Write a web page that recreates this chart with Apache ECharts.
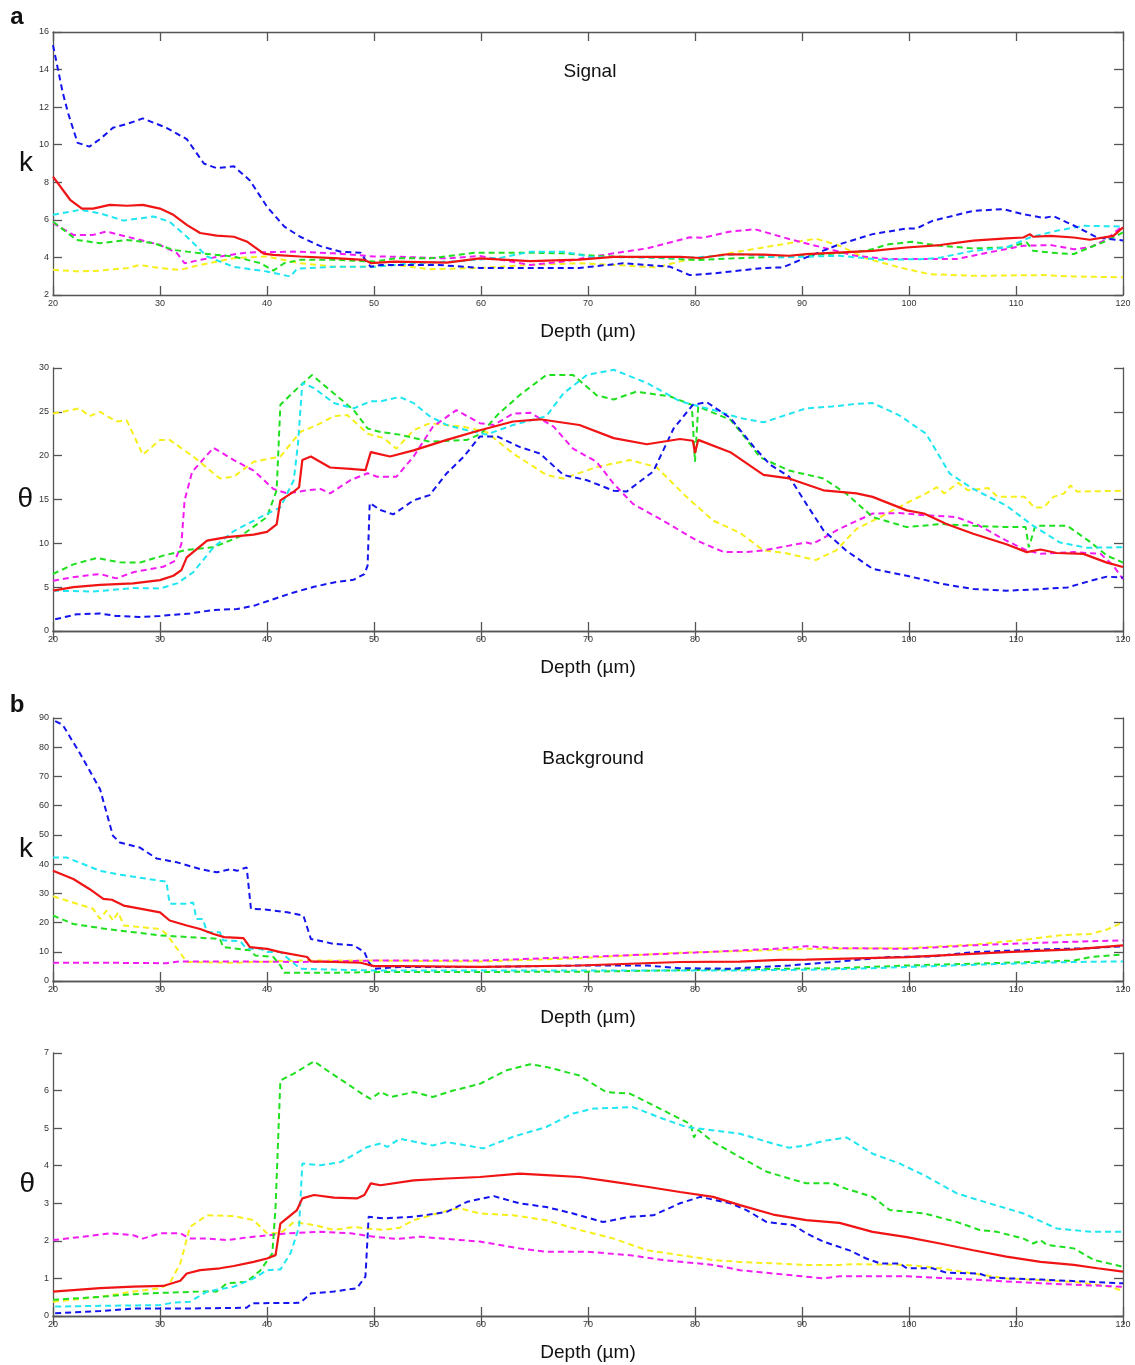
<!DOCTYPE html>
<html>
<head>
<meta charset="utf-8">
<script src="https://cdn.jsdelivr.net/npm/echarts/dist/echarts.min.js"></script>
<style>
  html, body { margin: 0; padding: 0; background: #fff; }
  #chart { width: 1135px; height: 1365px; }
</style>
</head>
<body>
<div id="chart"></div>
<script>
// depth (um) / value pairs

// a) Signal, k
const sigKBlue = [[20,15.3],[20.9,12.8],[21.4,11.7],[22.3,10.1],[23.4,9.9],[24.4,10.3],[25.6,10.9],[26.9,11.1],[28.4,11.4],[29.5,11.15],[30.6,10.9],[32.5,10.3],[34.1,9.0],[35.3,8.75],[36.9,8.85],[38.4,8.1],[40,6.7],[41.6,5.65],[43.1,5.1],[45,4.6],[46.9,4.3],[48.75,4.25],[49.4,3.7],[49.7,3.5],[50.6,3.6],[56,3.6],[59.9,3.44],[69.2,3.44],[73.3,3.69],[77.7,3.5],[79.5,3.06],[81.7,3.15],[86.4,3.44],[88.2,3.47],[90.4,4.0],[93.5,4.7],[96.6,5.24],[99.75,5.54],[100.7,5.54],[102.2,5.95],[106,6.48],[108.8,6.57],[110.7,6.3],[112.6,6.1],[113.5,6.2],[115.4,5.7],[117.6,5.06],[120,4.9]]
const sigKRed = [[20,8.3],[21.6,7.07],[22.7,6.6],[23.75,6.6],[25.3,6.8],[26.9,6.75],[28.4,6.8],[30,6.6],[31.25,6.27],[32.5,5.73],[33.75,5.3],[35.3,5.16],[36.9,5.1],[38.1,4.85],[39.7,4.2],[40.6,4.14],[43.1,4.05],[46.25,3.96],[49.1,3.87],[49.7,3.7],[51.9,3.78],[56.8,3.72],[59.9,3.95],[64.6,3.8],[69.2,3.88],[72.4,4.03],[78.6,4.03],[80.5,3.97],[83,4.17],[86.4,4.15],[88.8,4.09],[90.4,4.18],[96.6,4.35],[99.75,4.53],[102.9,4.66],[106,4.89],[109.1,5.01],[110.7,5.06],[111.3,5.24],[111.6,5.1],[113.2,5.15],[115.4,5.06],[116.9,4.94],[119.1,5.15],[120,5.6]]
const sigKCyan = [[20,6.27],[22.5,6.53],[24.4,6.35],[26.6,5.96],[29.4,6.18],[30.9,5.9],[32.5,5.1],[34.4,4.05],[36.9,3.5],[40,3.25],[42.2,2.98],[42.8,3.4],[46.25,3.5],[50,3.5],[54,3.7],[58,3.8],[62,4.0],[64.6,4.3],[67.7,4.3],[70.3,4.03],[75,4.0],[80,4.0],[84.2,4.18],[88,4.0],[93.5,4.09],[97.3,3.88],[101.4,3.91],[103,4.0],[106,4.35],[109.1,4.53],[111.3,5.06],[113.8,5.42],[116.3,5.68],[120,5.65]]
const sigKMagenta = [[20,5.82],[21.9,5.2],[23.75,5.2],[25,5.38],[27.5,5.02],[30,4.67],[31.6,4.22],[32.3,3.69],[33.75,3.87],[35.6,4.05],[38.1,4.26],[42.5,4.31],[46.25,4.22],[50,4.05],[52,4.04],[56.8,3.95],[59.9,4.08],[64.6,3.6],[67.7,3.78],[72.4,4.22],[75.5,4.48],[79.5,5.07],[80.8,5.05],[83.2,5.37],[85.6,5.5],[88.8,4.98],[91.9,4.53],[95,4.09],[98.1,3.91],[104.4,3.91],[107.5,4.27],[110.7,4.62],[113.2,4.66],[115.4,4.44],[116.9,4.53],[118.5,4.98],[120,5.7]]
const sigKGreen = [[20,5.9],[22.2,4.93],[24.4,4.76],[26.9,4.93],[29.4,4.76],[31.25,4.4],[33.75,4.22],[36.9,4.05],[39.4,3.69],[40.6,3.3],[41.6,3.69],[43.1,3.87],[46.25,3.87],[50,3.78],[52,3.95],[55.2,3.95],[59.4,4.25],[64.6,4.25],[67.7,4.22],[70.8,4.08],[75.5,4.0],[80.2,3.86],[84.8,3.98],[90.4,4.09],[96,4.35],[98.1,4.7],[100.3,4.83],[102.9,4.62],[106,4.48],[109.1,4.53],[111,4.8],[111.6,4.35],[113.8,4.23],[115.4,4.18],[116.9,4.53],[118.5,4.89],[120,5.33]]
const sigKYellow = [[20,3.34],[22.5,3.25],[24.4,3.3],[26.9,3.43],[28.1,3.6],[30,3.43],[31.9,3.34],[33.75,3.6],[36.9,3.96],[40,4.05],[43.1,3.69],[46.25,3.51],[50,3.51],[52,3.6],[55.2,3.37],[59.9,3.44],[64.6,3.6],[69.2,3.69],[72.4,3.6],[76.4,3.47],[78.6,3.79],[83.2,4.22],[85,4.4],[88.2,4.7],[91.3,5.0],[93.5,4.62],[96,3.95],[99.1,3.47],[101.9,3.11],[106,3.02],[112.3,3.06],[115.4,2.99],[120,2.94]]

// a) Signal, theta
const sigTBlue = [[20.2,1.34],[22.2,1.9],[24.4,2.0],[25.9,1.72],[28.1,1.6],[30,1.72],[32.8,2.0],[35,2.4],[37.2,2.5],[38.75,2.87],[40.6,3.63],[42.5,4.4],[44.4,5.04],[46.25,5.54],[48.1,5.85],[49.1,6.5],[49.4,7.45],[49.6,14.6],[50.6,13.8],[51.8,13.3],[53.7,14.9],[55.2,15.5],[56.8,18.0],[58.4,19.9],[59.9,22.2],[61.5,22.2],[63.6,21.0],[65.5,20.25],[67.7,17.8],[69.9,17.2],[72.4,16.0],[73.6,15.9],[76.1,18.2],[78,23.1],[79.8,25.8],[81.1,26.1],[83.3,24.3],[85.5,21.0],[87,19.0],[88.8,17.6],[90.4,14.5],[92,11.5],[94.1,9.2],[96.6,7.1],[99.8,6.3],[103,5.4],[106,4.78],[109.1,4.6],[112.3,4.78],[114.8,4.97],[117,5.73],[118.5,6.2],[120,6.1]]
const sigTRed = [[20,4.6],[21.9,5.0],[24.4,5.27],[27.5,5.43],[30,5.8],[31.25,6.3],[32,6.95],[32.5,8.4],[34.4,10.3],[36.25,10.7],[38.75,11.0],[40,11.3],[40.9,12.15],[41.25,14.9],[42.5,15.9],[43,16.4],[43.3,19.5],[44.1,19.9],[45.9,18.65],[47.8,18.5],[49.2,18.35],[49.7,20.4],[51.5,19.9],[53.7,20.6],[56.8,21.8],[59.9,22.9],[63,23.9],[65.5,24.15],[69.2,23.5],[72.4,22.0],[75.5,21.3],[78.6,21.9],[79.8,21.7],[80,20.3],[80.3,21.8],[83.3,20.4],[86.4,17.8],[88.8,17.4],[92,16.05],[95.1,15.7],[96.6,15.3],[99.8,13.76],[101.4,13.4],[103.5,12.2],[106,11.1],[109.1,9.9],[111,9.0],[112.3,9.3],[113.8,8.9],[116.3,8.8],[118.5,7.8],[120,7.3]]
const sigTCyan = [[20,4.6],[23.75,4.5],[27.5,4.9],[30,4.85],[31.6,5.43],[33.1,6.7],[35,9.55],[36.9,11.4],[39.4,13.0],[41.25,14.1],[42.5,17.2],[42.9,21.4],[43.3,28.3],[44.4,27.7],[46.25,26.0],[48.1,25.4],[49.7,26.2],[50.6,26.2],[52.4,26.7],[53.7,26.0],[55.2,24.5],[56.8,23.5],[58.7,22.9],[60.5,22.4],[63,23.5],[66.1,24.5],[67.7,27.1],[69.9,29.2],[72.4,29.8],[75.5,28.3],[78.6,26.2],[81.7,25.2],[84.2,24.3],[86.4,23.8],[90.4,25.4],[92.8,25.6],[95,25.9],[96.6,26.0],[99.1,24.6],[101.6,22.5],[103.8,17.96],[106,16.2],[109.1,14.3],[111.6,12.0],[114.1,10.1],[116.6,9.5],[120,9.55]]
const sigTMagenta = [[20,5.73],[22.2,6.2],[24.4,6.5],[25.9,6.0],[27.5,6.7],[29.1,7.07],[30.3,7.33],[31.4,8.0],[32,9.93],[32.3,14.9],[33,18.15],[35,20.9],[36.9,19.5],[38.75,18.3],[40.6,16.2],[41.9,15.7],[43.75,16.05],[45,16.2],[45.9,15.7],[47.8,17.2],[49.4,18.0],[50.3,17.6],[52.1,17.6],[53.7,19.9],[55.5,23.3],[57.7,25.2],[59.9,23.7],[61.2,23.5],[63,24.8],[64.6,24.9],[66.8,23.3],[68.6,20.8],[70.8,19.3],[72.4,16.8],[74.2,14.5],[77,12.6],[80.2,10.3],[82.7,9.0],[84.8,9.0],[86.4,9.2],[88.8,9.74],[90.4,10.1],[91,9.93],[93.5,11.65],[96.6,13.4],[99.1,13.45],[101.6,13.2],[104.4,13.0],[106.6,12.0],[109.1,10.3],[111,9.2],[112.3,8.8],[115.4,9.0],[117.9,8.8],[119.1,7.45],[120,5.9]]
const sigTGreen = [[20,6.5],[21.9,7.6],[24.1,8.33],[26.25,7.83],[28.1,7.8],[30.3,8.6],[32.5,9.25],[35,9.55],[37.5,10.8],[40,13.0],[40.9,16.05],[41.25,25.8],[42.5,27.3],[44.2,29.2],[46.25,27.1],[48.1,25.2],[49.4,23.1],[50.6,22.7],[52.4,22.4],[55.2,21.6],[58.7,21.8],[60,22.5],[61.5,24.6],[63.6,26.9],[66.1,29.2],[68.6,29.2],[70.8,26.9],[72.4,26.4],[74.5,27.3],[77.7,26.75],[79.7,25.8],[80,19.3],[80.3,25.6],[83.3,24.1],[84.2,22.8],[86.1,19.8],[88.8,18.3],[92,17.4],[94.1,15.7],[96.6,13.0],[99.8,11.85],[103,12.2],[106,12.0],[109.1,11.85],[110.9,11.85],[111.2,9.55],[111.8,12.0],[114.8,12.0],[117,10.1],[118.5,8.6],[120,7.8]]
const sigTYellow = [[20,24.8],[22.5,25.4],[23.4,24.5],[24.4,25.0],[25.9,23.9],[26.9,24.0],[28.4,20.1],[30,21.8],[30.9,21.8],[33.1,19.9],[35.6,17.4],[36.9,17.6],[38.75,19.3],[41.25,19.9],[43.1,22.7],[44.7,23.5],[46.25,24.5],[47.5,24.65],[49.4,22.5],[50.9,22.0],[52.1,20.8],[53.7,22.9],[55.2,23.7],[58.4,23.3],[60.5,22.7],[63,20.25],[66.1,17.8],[67.7,17.4],[70.8,18.7],[73.9,19.5],[76.4,18.7],[79.2,15.3],[81.7,12.6],[84.2,11.2],[86.4,9.2],[88.5,8.87],[91.3,8.1],[93.2,9.2],[95.1,11.65],[97.3,13.0],[99.8,14.6],[101.6,15.7],[102.6,16.4],[103.3,15.7],[104.6,16.9],[105.5,16.05],[107.4,16.3],[108.3,15.3],[110.8,15.3],[111.7,14.1],[112.6,14.1],[113.5,15.3],[114.5,15.7],[115.1,16.6],[115.7,15.9],[120,16.0]]

// b) Background, k
const bgKBlue = [[20.2,88.9],[20.9,87.7],[22.5,78],[24.4,65.6],[25.6,49.7],[26.25,47.4],[28.1,45.7],[29.7,41.9],[31.6,40.6],[33.75,38.3],[35.3,37.2],[36.6,38.3],[37.2,37.7],[38.1,38.9],[38.5,24.7],[40,24.4],[41.9,23.5],[43.4,22.4],[44.1,14.4],[46.25,12.7],[48.1,12.2],[49.1,9.9],[49.5,6.5],[50,4.2],[52.5,4.8],[60,4.8],[69.2,5.3],[75.5,5.3],[78.6,4.4],[83.3,4.2],[86,4.8],[88.8,5.3],[93.5,6.7],[98.1,8.2],[102.2,8.4],[106,9.9],[112.3,10.8],[117,11.25],[120,11.9]]
const bgKRed = [[20,37.7],[21.9,34.9],[23.4,31.5],[24.7,28.1],[25.5,27.8],[26.6,25.8],[27.5,25.2],[30,23.5],[30.9,20.7],[32.5,19.0],[33.75,17.8],[35,16.1],[36,15.0],[37.8,14.7],[38.4,11.6],[40,11.0],[41.25,9.9],[43.75,8.2],[44.1,6.7],[46.25,6.5],[48.75,6.25],[50,5.1],[52.5,5.1],[59.9,4.8],[69.2,5.3],[78.6,6.5],[84.2,6.6],[87.9,7.2],[90.4,7.3],[99.8,8.2],[109.1,9.9],[115.4,10.8],[120,12.2]]
const bgKCyan = [[20,42.3],[21.25,42.3],[24.4,37.7],[26.25,36.4],[30,34.3],[30.6,34.0],[30.9,26.4],[32.5,26.4],[33.1,26.9],[33.4,21.25],[34,21.25],[34.4,16.7],[35.6,16.7],[35.9,13.9],[37.5,13.6],[38.1,11.0],[39.4,11.0],[40,9.9],[41.25,9.9],[42.2,7.0],[43.1,4.2],[46.25,3.9],[50,3.6],[60,3.6],[70,3.6],[84.2,3.6],[93.5,4.0],[99.8,4.8],[109.1,5.9],[115.4,6.5],[120,6.7]]
const bgKMagenta = [[20,6.25],[24.4,6.25],[30.6,6.1],[31.9,6.7],[36.9,6.7],[43.1,6.5],[50,7.0],[59.9,7.0],[69.2,8.2],[78.6,9.5],[84.2,10.45],[87.9,11.1],[90.4,11.9],[93.5,11.25],[99.8,11.0],[106,12.2],[112.3,13.1],[120,13.9]]
const bgKGreen = [[20,22.4],[21.9,19.5],[25,17.8],[30,15.6],[35.6,14.4],[35.9,11.6],[38.4,10.5],[38.9,8.75],[40.6,8.2],[41.25,5.3],[41.6,2.8],[46.25,2.8],[50,3.1],[60,3.1],[70,3.2],[84.2,4.0],[93.5,4.4],[99.8,5.3],[109.1,6.25],[115.4,7.0],[117,8.2],[120,9.1]]
const bgKYellow = [[20,29.0],[23.75,24.7],[24.4,21.25],[25,24.1],[25.6,20.7],[26.1,23.5],[26.6,19.0],[30,17.8],[30.6,16.1],[32.5,6.5],[36.9,6.25],[43.1,7.0],[50,7.0],[59.9,6.7],[69.2,7.8],[78.6,9.7],[84.2,10.2],[90.4,11.0],[99.8,11.25],[106,12.4],[111.4,14.4],[113.9,15.6],[117,16.1],[118.5,17.6],[120,20.1]]

// b) Background, theta
const bgTBlue = [[20.2,0.07],[24.4,0.13],[27.5,0.2],[32.5,0.2],[38.1,0.22],[38.6,0.34],[43.1,0.35],[44.1,0.6],[46.25,0.65],[48.4,0.74],[49.2,1.05],[49.5,2.64],[50.9,2.6],[53.7,2.64],[56.8,2.77],[58.7,3.04],[61.2,3.19],[63.6,3.0],[66.1,2.9],[68.6,2.73],[71.4,2.5],[73.9,2.64],[76.1,2.68],[78.6,3.0],[80.5,3.17],[83.3,3.0],[84.8,2.82],[86.7,2.5],[89.2,2.42],[90.4,2.2],[92,1.98],[94.5,1.74],[96,1.53],[97.3,1.4],[99.1,1.4],[99.8,1.27],[102.2,1.27],[103.5,1.15],[106.6,1.13],[107.6,1.02],[112.3,0.97],[120,0.87]]
const bgTRed = [[20,0.65],[24.4,0.74],[27.5,0.78],[30.3,0.8],[31.9,0.94],[32.5,1.13],[33.75,1.22],[35.6,1.27],[36.9,1.33],[38.75,1.44],[40,1.53],[40.8,1.62],[41.25,2.46],[42.8,2.82],[43.3,3.13],[44.4,3.22],[46.25,3.15],[48.4,3.13],[49.1,3.22],[49.7,3.53],[50.6,3.48],[53.7,3.61],[56.8,3.66],[59.9,3.7],[63.6,3.79],[66.1,3.75],[69.2,3.7],[72.4,3.57],[75.5,3.44],[78.6,3.3],[81.7,3.17],[84.2,2.95],[87.3,2.7],[90.4,2.55],[93.5,2.48],[96.6,2.24],[99.8,2.1],[102.9,1.93],[106,1.75],[109.1,1.58],[112.3,1.44],[115.4,1.36],[117.6,1.27],[120,1.18]]
const bgTCyan = [[20.2,0.25],[24.4,0.27],[30,0.29],[31.25,0.36],[32.8,0.38],[34.4,0.65],[36.9,0.78],[38.75,1.0],[40,1.22],[41.25,1.24],[42.2,1.67],[43,2.37],[43.3,4.06],[45,4.01],[46.9,4.1],[49.4,4.5],[50.6,4.59],[51.25,4.5],[52.4,4.72],[55.5,4.54],[56.8,4.63],[60.2,4.46],[63,4.77],[66.1,5.03],[68.6,5.39],[70.5,5.52],[74.2,5.56],[77,5.25],[79.2,5.03],[84.2,4.85],[87.3,4.59],[88.8,4.48],[90.4,4.54],[92,4.66],[94.2,4.75],[96.6,4.32],[99.1,4.06],[101.4,3.75],[104.5,3.26],[107.6,2.99],[110.7,2.73],[113.8,2.33],[117,2.24],[120,2.24]]
const bgTMagenta = [[20,2.02],[22.8,2.11],[25.3,2.2],[27.5,2.15],[28.4,2.06],[30,2.2],[31.9,2.2],[32.8,2.06],[34.4,2.06],[36.25,2.02],[38.1,2.09],[41.9,2.2],[45,2.24],[47.8,2.2],[50,2.11],[52.1,2.05],[54.3,2.11],[59.9,1.98],[63.6,1.8],[66.1,1.71],[69.9,1.71],[73.9,1.62],[77,1.49],[81.7,1.36],[84.2,1.22],[88.8,1.09],[92,1.0],[93.5,1.06],[99.8,1.06],[106,0.97],[112.3,0.87],[120,0.78]]
const bgTGreen = [[20,0.43],[24.4,0.51],[27.5,0.58],[30.6,0.62],[33.75,0.65],[35.3,0.65],[36.25,0.87],[38.1,0.91],[39.4,1.22],[40.5,1.67],[40.8,2.9],[41.25,6.27],[42.5,6.45],[44.4,6.78],[45.6,6.54],[47.5,6.18],[49.1,5.87],[49.7,5.78],[50.6,5.96],[51.6,5.83],[53.7,5.96],[55.5,5.83],[57.4,6.0],[59.9,6.18],[62.4,6.54],[64.6,6.7],[66.1,6.63],[69.2,6.4],[71.7,5.96],[73.9,5.92],[76.1,5.61],[78.6,5.25],[79.6,5.1],[79.9,4.75],[80.3,4.95],[81.7,4.63],[84.2,4.23],[86.7,3.84],[88.8,3.66],[90.4,3.53],[92.9,3.53],[94.1,3.39],[96.6,3.17],[98.2,2.82],[101.4,2.73],[104.5,2.5],[106.6,2.29],[108.2,2.24],[110.7,2.06],[111.6,1.93],[112.3,2.02],[112.9,1.89],[115.4,1.8],[117.3,1.49],[120,1.31]]
const bgTYellow = [[20,0.38],[24.4,0.51],[27.5,0.65],[30,0.74],[30.9,0.87],[31.9,1.4],[32.8,2.37],[34.4,2.68],[36.9,2.66],[38.75,2.55],[40,2.2],[41.25,2.2],[42.5,2.5],[44.4,2.42],[46.25,2.29],[48.1,2.37],[49.4,2.33],[50.9,2.29],[52.4,2.35],[53.7,2.55],[56.8,2.8],[58,2.87],[59.9,2.73],[63,2.68],[66.1,2.55],[69.2,2.29],[72.4,2.06],[75.5,1.75],[78.6,1.62],[81.7,1.49],[84.2,1.44],[90.4,1.36],[93.5,1.36],[95.1,1.38],[99.8,1.36],[102.9,1.27],[106,1.13],[109.1,1.0],[115.4,0.91],[118.5,0.8],[120,0.67]]

const panels = [
  { top: 32, yName: 'k', yMin: 2, yMax: 16, yStep: 2,
    lines: { yellow: sigKYellow, magenta: sigKMagenta, green: sigKGreen, cyan: sigKCyan, blue: sigKBlue, red: sigKRed } },
  { top: 368, yName: 'θ', yMin: 0, yMax: 30, yStep: 5,
    lines: { yellow: sigTYellow, magenta: sigTMagenta, green: sigTGreen, cyan: sigTCyan, blue: sigTBlue, red: sigTRed } },
  { top: 718, yName: 'k', yMin: 0, yMax: 90, yStep: 10,
    lines: { yellow: bgKYellow, magenta: bgKMagenta, green: bgKGreen, cyan: bgKCyan, blue: bgKBlue, red: bgKRed } },
  { top: 1053, yName: 'θ', yMin: 0, yMax: 7, yStep: 1,
    lines: { yellow: bgTYellow, magenta: bgTMagenta, green: bgTGreen, cyan: bgTCyan, blue: bgTBlue, red: bgTRed } }
]

const colors = {
  yellow: '#f6ef1c',
  magenta: '#f21cf2',
  green: '#1fe01f',
  cyan: '#1fe6f0',
  blue: '#1414ee',
  red: '#f01414'
}

const frameLine = { show: true, lineStyle: { color: '#555', width: 1.3 } }
const innerTick = { show: true, inside: true, length: 9, lineStyle: { color: '#555', width: 1.3 } }
const tickFont = { fontSize: 9, color: '#333', fontFamily: 'Liberation Sans' }

const grid = []
const xAxis = []
const yAxis = []
const series = []

panels.forEach((p, i) => {
  grid.push({ left: 53, width: 1070, top: p.top, height: 263 })
  // bottom + top x axis
  xAxis.push({
    type: 'value', gridIndex: i, min: 20, max: 120, interval: 10, position: 'bottom',
    axisLine: frameLine, axisTick: innerTick, splitLine: { show: false },
    axisLabel: Object.assign({ margin: 4 }, tickFont),
    name: 'Depth (µm)', nameLocation: 'middle', nameGap: 27,
    nameTextStyle: { fontSize: 19, color: '#111', fontFamily: 'Liberation Sans' }
  })
  xAxis.push({
    type: 'value', gridIndex: i, min: 20, max: 120, interval: 10, position: 'top',
    axisLine: frameLine, axisTick: innerTick, splitLine: { show: false },
    axisLabel: { show: false }
  })
  // left + right y axis
  yAxis.push({
    type: 'value', gridIndex: i, min: p.yMin, max: p.yMax, interval: p.yStep, position: 'left',
    axisLine: frameLine, axisTick: innerTick, splitLine: { show: false },
    axisLabel: Object.assign({ margin: 4 }, tickFont),
    name: p.yName, nameLocation: 'middle', nameRotate: 0, nameGap: 18,
    nameTextStyle: { fontSize: 28, color: '#111', fontFamily: 'Liberation Sans' }
  })
  yAxis.push({
    type: 'value', gridIndex: i, min: p.yMin, max: p.yMax, interval: p.yStep, position: 'right',
    axisLine: frameLine, axisTick: innerTick, splitLine: { show: false },
    axisLabel: { show: false }
  })
  Object.keys(p.lines).forEach(c => {
    series.push({
      type: 'line',
      xAxisIndex: i * 2,
      yAxisIndex: i * 2,
      data: p.lines[c],
      showSymbol: false,
      clip: true,
      lineStyle: {
        color: colors[c],
        width: c === 'red' ? 2.2 : 2,
        type: c === 'red' ? 'solid' : [6, 4]
      },
      z: c === 'red' ? 3 : 2
    })
  })
})

const chart = echarts.init(document.getElementById('chart'))
chart.setOption({
  animation: false,
  backgroundColor: '#fff',
  grid: grid,
  xAxis: xAxis,
  yAxis: yAxis,
  series: series,
  graphic: [
    { type: 'text', x: 17, y: 17, style: { text: 'a', fontSize: 24, fontWeight: 'bold', fill: '#111', align: 'center', verticalAlign: 'middle', fontFamily: 'Liberation Sans' } },
    { type: 'text', x: 17, y: 705, style: { text: 'b', fontSize: 24, fontWeight: 'bold', fill: '#111', align: 'center', verticalAlign: 'middle', fontFamily: 'Liberation Sans' } },
    { type: 'text', x: 590, y: 72, style: { text: 'Signal', fontSize: 19, fill: '#111', align: 'center', verticalAlign: 'middle', fontFamily: 'Liberation Sans' } },
    { type: 'text', x: 593, y: 759, style: { text: 'Background', fontSize: 19, fill: '#111', align: 'center', verticalAlign: 'middle', fontFamily: 'Liberation Sans' } }
  ]
})
</script>
</body>
</html>
